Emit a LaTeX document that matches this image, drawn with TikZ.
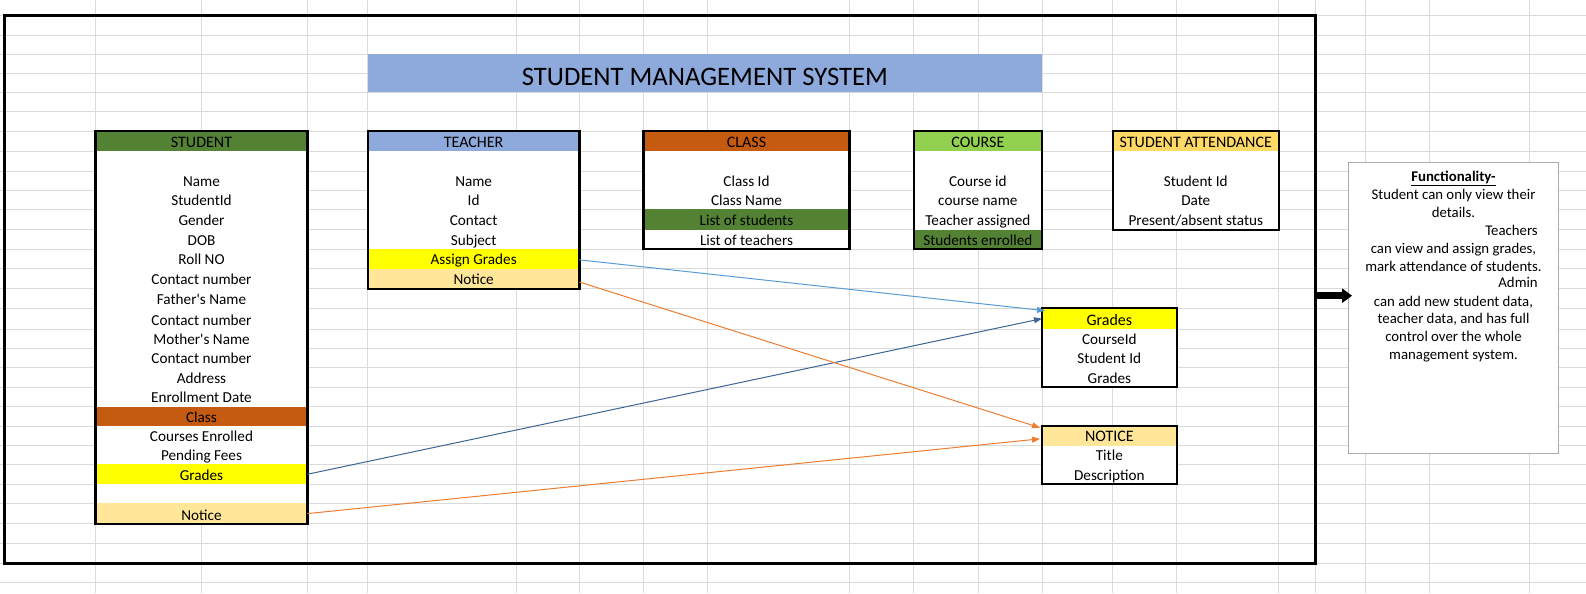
\documentclass[tikz,border=0pt]{standalone}
\usepackage{fontspec}
\setmainfont{Carlito}
\usetikzlibrary{arrows.meta,calc}
\definecolor{gridc}{HTML}{DADADA}
\definecolor{hdgreen}{HTML}{548235}
\definecolor{hlblue}{HTML}{8EA9DB}
\definecolor{hbrown}{HTML}{C55A11}
\definecolor{hlgreen}{HTML}{92D050}
\definecolor{hgold}{HTML}{FFD966}
\definecolor{hyel}{HTML}{FFFF00}
\definecolor{horange}{HTML}{FFE699}
\definecolor{conlblue}{HTML}{5B9BD5}
\definecolor{condblue}{HTML}{3C6496}
\definecolor{conorange}{HTML}{ED7D31}
\definecolor{fgray}{HTML}{ABABAB}
\newcommand\hdfont{\fontsize{12}{14}\selectfont}
\tikzset{
  cellt/.style={inner sep=0pt, outer sep=0pt, text depth=0pt, font=\fontsize{11.4}{13}\selectfont},
  boxl/.style={draw=black, line width=1.65pt},
  gridl/.style={draw=gridc, line width=0.75pt},
  conn/.style={line width=0.75pt, -{Triangle[length=6pt,width=4.5pt]}},
  ftext/.style={inner sep=0pt, anchor=base, font=\fontsize{11.1}{13}\selectfont},
}
% name, x1, x2, y1, y2, fill, text
\newcommand\ercell[7]{%
  \node[cellt, fill=#6, minimum width={(#3-#2)*0.75pt}, minimum height={(#5-#4)*0.75pt},
        text height={(#5-#4-7.4)*0.75pt}]
    (#1) at ({(#2+#3)/2},{(#4+#5)/2}) {#7};}
\begin{document}
\begin{tikzpicture}[x=0.75pt,y=-0.75pt]
\useasboundingbox (0,0) rectangle (1586,593);
\fill[white] (0,0) rectangle (1586,593);
% spreadsheet grid
\foreach \gx in {95.5,201.5,307.5,367.8,516,579.5,643.5,707.5,849.5,913.7,978,1042,1112.8,1176.7,1278.8,1315.3,1365.5,1429.5,1529.5}
  \draw[gridl] (\gx,0) -- (\gx,593);
\foreach \gy in {15.1,35.2,54.1,73,92.3,111.6,131.2,151.3,171.3,190.2,209.2,229.6,249.2,268.5,288.6,308.2,329,348,367.6,387.3,406.6,426.2,445.5,464.4,484.1,503.4,523.8,543.5,563.2,582.5}
  \draw[gridl] (0,\gy) -- (1586,\gy);
% frame
\draw[line width=2.25pt] (4,15) rectangle (1315,563);
% title
\node[inner sep=0pt, fill=hlblue, minimum width={674.2*0.75pt}, minimum height={38.2*0.75pt},
      text height={23.6*0.75pt}, text depth=0pt, font=\fontsize{20}{24}\selectfont]
  (title) at (704.9,73.2) {STUDENT MANAGEMENT SYSTEM};
% STUDENT
\ercell{sHead}{95.5}{307.5}{131.2}{151.3}{hdgreen}{\hdfont STUDENT}
\ercell{sBlank}{95.5}{307.5}{151.3}{171.3}{white}{}
\ercell{sName}{95.5}{307.5}{171.3}{190.2}{white}{Name}
\ercell{sId}{95.5}{307.5}{190.2}{209.2}{white}{StudentId}
\ercell{sGender}{95.5}{307.5}{209.2}{229.6}{white}{Gender}
\ercell{sDob}{95.5}{307.5}{229.6}{249.2}{white}{DOB}
\ercell{sRoll}{95.5}{307.5}{249.2}{268.5}{white}{Roll NO}
\ercell{sContA}{95.5}{307.5}{268.5}{288.6}{white}{Contact number}
\ercell{sFather}{95.5}{307.5}{288.6}{308.2}{white}{Father\textquotesingle s Name}
\ercell{sContB}{95.5}{307.5}{308.2}{329}{white}{Contact number}
\ercell{sMother}{95.5}{307.5}{329}{348}{white}{Mother\textquotesingle s Name}
\ercell{sContC}{95.5}{307.5}{348}{367.6}{white}{Contact number}
\ercell{sAddr}{95.5}{307.5}{367.6}{387.3}{white}{Address}
\ercell{sEnroll}{95.5}{307.5}{387.3}{406.6}{white}{Enrollment Date}
\ercell{sClass}{95.5}{307.5}{406.6}{426.2}{hbrown}{Class}
\ercell{sCourses}{95.5}{307.5}{426.2}{445.5}{white}{Courses Enrolled}
\ercell{sFees}{95.5}{307.5}{445.5}{464.4}{white}{Pending Fees}
\ercell{sGrades}{95.5}{307.5}{464.4}{484.1}{hyel}{Grades}
\ercell{sBlankB}{95.5}{307.5}{484.1}{503.4}{white}{}
\ercell{sNotice}{95.5}{307.5}{503.4}{523.8}{horange}{Notice}
\draw[boxl] (95.5,131.2) rectangle (307.5,523.8);
% TEACHER
\ercell{tHead}{367.8}{579.5}{131.2}{151.3}{hlblue}{\hdfont TEACHER}
\ercell{tBlank}{367.8}{579.5}{151.3}{171.3}{white}{}
\ercell{tName}{367.8}{579.5}{171.3}{190.2}{white}{Name}
\ercell{tId}{367.8}{579.5}{190.2}{209.2}{white}{Id}
\ercell{tContact}{367.8}{579.5}{209.2}{229.6}{white}{Contact}
\ercell{tSubject}{367.8}{579.5}{229.6}{249.2}{white}{Subject}
\ercell{tAssign}{367.8}{579.5}{249.2}{268.5}{hyel}{Assign Grades}
\ercell{tNotice}{367.8}{579.5}{268.5}{288.6}{horange}{Notice}
\draw[boxl] (367.8,131.2) rectangle (579.5,288.6);
% CLASS
\ercell{cHead}{643.5}{849.5}{131.2}{151.3}{hbrown}{\hdfont CLASS}
\ercell{cBlank}{643.5}{849.5}{151.3}{171.3}{white}{}
\ercell{cId}{643.5}{849.5}{171.3}{190.2}{white}{Class Id}
\ercell{cName}{643.5}{849.5}{190.2}{209.2}{white}{Class Name}
\ercell{cStud}{643.5}{849.5}{209.2}{229.6}{hdgreen}{List of students}
\ercell{cTeach}{643.5}{849.5}{229.6}{249.2}{white}{List of teachers}
\draw[boxl] (643.5,131.2) rectangle (849.5,249.2);
% COURSE
\ercell{oHead}{913.7}{1042}{131.2}{151.3}{hlgreen}{\hdfont COURSE}
\ercell{oBlank}{913.7}{1042}{151.3}{171.3}{white}{}
\ercell{oId}{913.7}{1042}{171.3}{190.2}{white}{Course id}
\ercell{oName}{913.7}{1042}{190.2}{209.2}{white}{course name}
\ercell{oTeach}{913.7}{1042}{209.2}{229.6}{white}{Teacher assigned}
\ercell{oStud}{913.7}{1042}{229.6}{249.2}{hdgreen}{Students enrolled}
\draw[boxl] (913.7,131.2) rectangle (1042,249.2);
% STUDENT ATTENDANCE
\ercell{aHead}{1112.8}{1278.8}{131.2}{151.3}{hgold}{\hdfont STUDENT ATTENDANCE}
\ercell{aBlank}{1112.8}{1278.8}{151.3}{171.3}{white}{}
\ercell{aId}{1112.8}{1278.8}{171.3}{190.2}{white}{Student Id}
\ercell{aDate}{1112.8}{1278.8}{190.2}{209.2}{white}{Date}
\ercell{aStatus}{1112.8}{1278.8}{209.2}{229.6}{white}{Present/absent status}
\draw[boxl] (1112.8,131.2) rectangle (1278.8,229.6);
% Grades
\ercell{gHead}{1042}{1176.7}{308.2}{329}{hyel}{\hdfont Grades}
\ercell{gCourse}{1042}{1176.7}{329}{348}{white}{CourseId}
\ercell{gStud}{1042}{1176.7}{348}{367.6}{white}{Student Id}
\ercell{gGrades}{1042}{1176.7}{367.6}{387.3}{white}{Grades}
\draw[boxl] (1042,308.2) rectangle (1176.7,387.3);
% NOTICE
\ercell{nHead}{1042}{1176.7}{426.2}{445.5}{horange}{\hdfont NOTICE}
\ercell{nTitle}{1042}{1176.7}{445.5}{464.4}{white}{Title}
\ercell{nDesc}{1042}{1176.7}{464.4}{484.1}{white}{Description}
\draw[boxl] (1042,426.2) rectangle (1176.7,484.1);
% connectors
\draw[conn, conlblue] ($(tAssign.east)+(0,1)$) -- ($(gHead.north west)+(3,2.5)$);
\draw[conn, condblue] (sGrades.east) -- (gHead.west);
\draw[conn, conorange] ($(tNotice.east)+(0,3.5)$) -- ($(nHead.north west)+(-2,1.5)$);
\draw[conn, conorange] (sNotice.east) -- ($(nHead.west)+(-2,3)$);
% functionality box
\node[draw=fgray, line width=1pt, fill=white, inner sep=0pt,
      minimum width={210*0.75pt}, minimum height={290.7*0.75pt}] (func) at (1453.7,307.85) {};
\node[ftext] (f1) at (1453.5,181.2) {\underline{\textbf{Functionality-}}};
\node[ftext] (f2) at (1453.5,199.5) {Student can only view their};
\node[ftext] (f3) at (1453.5,217.2) {details.};
\node[ftext, anchor=base east] (f4) at (1538,235.2) {Teachers};
\node[ftext] (f5) at (1453.5,253.2) {can view and assign grades,};
\node[ftext] (f6) at (1453.5,271.2) {mark attendance of students.};
\node[ftext, anchor=base east] (f7) at (1538,287.8) {Admin};
\node[ftext] (f8) at (1453.5,306.2) {can add new student data,};
\node[ftext] (f9) at (1453.5,323.8) {teacher data, and has full};
\node[ftext] (f10) at (1453.5,341.8) {control over the whole};
\node[ftext] (f11) at (1453.5,359.8) {management system.};
% block arrow
\coordinate (ba) at (1316.5,295.7);
\draw[line width=5.25pt, -{Triangle[length=7.5pt,width=10.5pt]}] (ba) -- ($(func.west|-ba)+(4,0)$);
\end{tikzpicture}
\end{document}
